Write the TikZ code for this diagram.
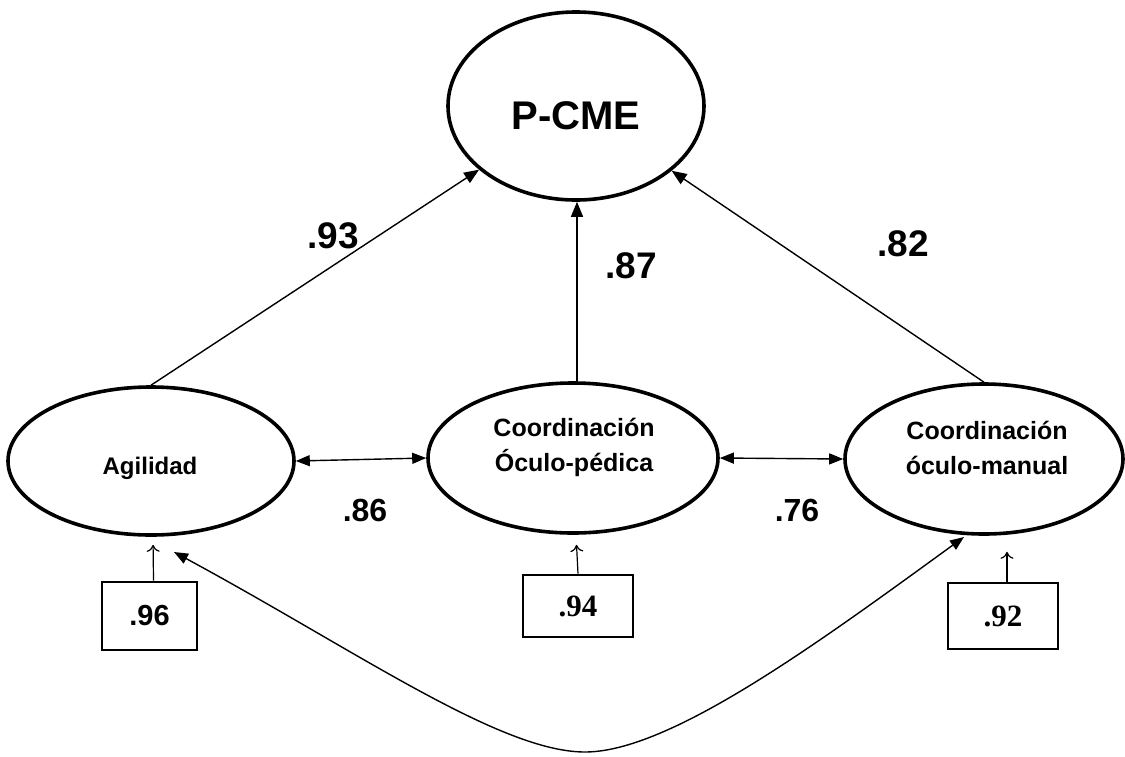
\documentclass[tikz,border=0pt]{standalone}
\usepackage{fontspec}
\setmainfont{Liberation Sans}
\newfontfamily\numserif{Liberation Serif}
\usetikzlibrary{arrows.meta,shapes.geometric}
\begin{document}
\begin{tikzpicture}[x=1pt,y=-1pt,
  latent/.style={draw, line width=3.6pt, ellipse, inner sep=0pt},
  errbox/.style={draw, line width=2.8pt, rectangle, inner sep=0pt},
  load/.style={line width=1.4pt, -{Triangle[length=15pt,width=12pt]}},
  cov/.style={line width=1.4pt, {Triangle[length=14pt,width=11pt]}-{Triangle[length=14pt,width=11pt]}},
  resid/.style={line width=1.2pt, -{To[length=7pt,width=13pt]}},
  coef/.style={font=\fontsize{37}{40}\selectfont\bfseries},
  coefsm/.style={font=\fontsize{32}{36}\selectfont\bfseries},
  vname/.style={align=center, font=\fontsize{25}{35}\selectfont\bfseries},
]
\useasboundingbox (0,0) rectangle (1125,756);

% latent variables
\node[latent, minimum width=256pt, minimum height=188pt] (pcme) at (576,106) {};
\node[latent, minimum width=286pt, minimum height=148pt] (agil) at (151,461) {};
\node[latent, minimum width=290pt, minimum height=150pt] (cop)  at (573,458) {};
\node[latent, minimum width=278pt, minimum height=150pt] (ocm)  at (984,459) {};

\node[font=\fontsize{40}{44}\selectfont\bfseries] (tpcme) at (576,116) {P-CME};
\node[font=\fontsize{24}{28}\selectfont\bfseries] (tagil) at (150,468) {Agilidad};
\node[vname] (tcop) at (574,447) {Coordinación\\Óculo-pédica};
\node[vname] (tocm) at (987,448) {Coordinación\\óculo-manual};

% residual boxes
\node[errbox, minimum width=95pt, minimum height=68pt] (b96) at (149.5,616)
  {\fontsize{29}{32}\selectfont\bfseries .96};
\node[errbox, minimum width=110pt, minimum height=62pt] (b94) at (578,606)
  {\numserif\fontsize{31}{34}\selectfont\bfseries .94};
\node[errbox, minimum width=110pt, minimum height=66pt] (b92) at (1003,616)
  {\numserif\fontsize{31}{34}\selectfont\bfseries .92};

% loadings onto P-CME
\draw[load] (agil.north) -- (pcme);
\draw[load] ([xshift=4pt]cop.north) -- ([xshift=4pt]cop.north |- pcme.south);
\draw[load] (ocm.north) -- (pcme);

% correlations between factors
\draw[cov] (agil.east) -- (cop.west);
\draw[cov] (cop.east) -- (ocm.west);

\coordinate (cA) at ([shift={(23,91)}]agil.center);
\coordinate (cB) at ([shift={(-20,78)}]ocm.center);
\coordinate (cbot) at (585,752);
\draw[cov] (cA) .. controls (357,651) and (500,752) .. (cbot)
                .. controls (670,752) and (818,643) .. (cB);

% residual arrows
\draw[resid, shorten >=8pt] ([xshift=4pt]b96.north) -- ([xshift=2pt]agil.south);
\draw[resid, shorten >=10pt] (b94.north) -- ([xshift=3pt]cop.south);
\draw[resid, shorten >=16pt] ([xshift=4pt]b92.north) -- ([xshift=4pt]b92.north |- ocm.south);

% coefficients
\node[coef] (l93) at (333,236) {.93};
\node[coef] (l87) at (631,266) {.87};
\node[coef] (l82) at (903,244) {.82};
\node[coefsm] (l86) at (365,510) {.86};
\node[coefsm] (l76) at (797,510) {.76};
\end{tikzpicture}
\end{document}
